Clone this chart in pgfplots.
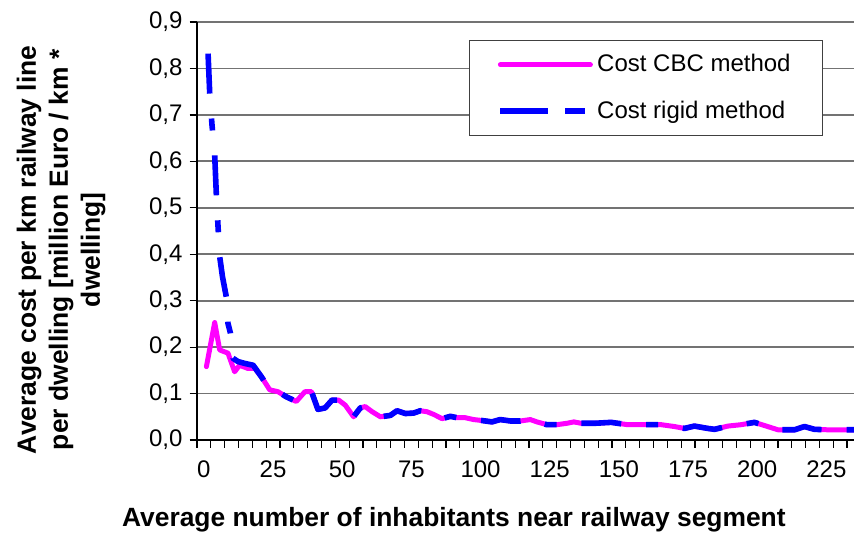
\documentclass[border=0pt]{standalone}
\usepackage{fontspec}
\setmainfont{Liberation Sans}
\usepackage{pgfplots}
\pgfplotsset{compat=1.18}
\definecolor{cbcpink}{HTML}{FF00FF}
\definecolor{rigidblue}{HTML}{0000FF}

\begin{document}
\begin{tikzpicture}
\begin{axis}[
  scale only axis, width=328.5pt, height=209pt,
  xmin=-2.5, xmax=235, ymin=0, ymax=0.9,
  axis x line=bottom, axis y line=left,
  axis line style={black, line width=0.8pt, -},
  tick align=outside, major tick length=3.75pt,
  tick style={black, line width=0.6pt},
  xtick={-2.5,2.5,...,232.5},
  xticklabels={0,,,,,25,,,,,50,,,,,75,,,,,100,,,,,125,,,,,150,,,,,175,,,,,200,,,,,225,,},
  xticklabel style={xshift=3.46pt, yshift=-3pt},
  ytick={0,0.1,0.2,0.3,0.4,0.5,0.6,0.7,0.8,0.9},
  yticklabel style={/pgf/number format/.cd, fixed, fixed zerofill, precision=1, use comma},
  /pgf/number format/assume math mode=true,
  ticklabel style={font=\fontsize{12}{14}\selectfont},
  ymajorgrids, grid style={black!55, line width=0.9pt},
  legend style={at={(rel axis cs:0.414,0.957)}, anchor=north west, draw=black!75,
    line width=0.6pt, fill=white, font=\fontsize{12}{14}\selectfont,
    inner xsep=14pt, inner ysep=5pt, row sep=9pt, cells={anchor=west}},
  legend image code/.code={\path (0pt,0pt) -- (45pt,0pt); \draw[#1] (4pt,0pt) -- (44pt,0pt);},
]
\addplot[cbcpink, line width=2.5pt, line join=round, line cap=round] coordinates {
(0.9,0.158) (3.9,0.253) (5.7,0.194) (8.7,0.187) (11.1,0.147) (12.9,0.161) (15.9,0.154)
(18.4,0.154) (20.8,0.136) (23.8,0.108) (26.8,0.104) (29.8,0.093) (33.4,0.083) (36.5,0.104)
(38.9,0.104) (41.2,0.066) (43.8,0.069) (46.3,0.086) (48.7,0.086) (51.1,0.075) (54.1,0.050)
(56.5,0.069) (58.3,0.072) (60.8,0.061) (63.8,0.050) (67.4,0.053) (69.8,0.063) (72.8,0.057)
(75.8,0.058) (78.2,0.063) (80.6,0.061) (83.1,0.055) (86.1,0.046) (89.1,0.051) (91.5,0.048)
(94.5,0.048) (97.5,0.044) (100.5,0.042) (104.1,0.039) (107.1,0.044) (110.8,0.041) (114.4,0.041)
(118.0,0.044) (120.4,0.039) (124.0,0.033) (127.6,0.033) (131.2,0.036) (133.7,0.039) (136.4,0.036)
(141.2,0.036) (147.2,0.038) (153.2,0.033) (158.0,0.033) (165.3,0.033) (170.1,0.029) (173.7,0.025)
(177.3,0.030) (182.1,0.025) (184.6,0.023) (189.4,0.030) (194.2,0.033) (199.0,0.038) (203.8,0.029)
(207.5,0.022) (213.5,0.022) (217.1,0.029) (220.7,0.023) (225.5,0.022) (230.3,0.022) (235.2,0.022)
};
\addlegendentry{Cost CBC method}
\addplot[rigidblue, line width=2.8pt, line join=round, line cap=butt,
  dash pattern=on 20pt off 12.5pt on 6pt off 12.5pt] coordinates {
(1.5,0.832) (2.1,0.746) (2.9,0.68) (3.9,0.613) (4.5,0.527) (5.1,0.46) (5.7,0.395) (6.7,0.352)
(8.1,0.308) (8.7,0.251) (9.6,0.23) (10.5,0.176) (12.3,0.169) (14.7,0.165) (17.8,0.161)
(20.8,0.136) (23.8,0.108) (26.8,0.104) (29.8,0.093) (33.4,0.083) (36.5,0.104)
(38.9,0.104) (41.2,0.066) (43.8,0.069) (46.3,0.086) (48.7,0.086) (51.1,0.075) (54.1,0.050)
(56.5,0.069) (58.3,0.072) (60.8,0.061) (63.8,0.050) (67.4,0.053) (69.8,0.063) (72.8,0.057)
(75.8,0.058) (78.2,0.063) (80.6,0.061) (83.1,0.055) (86.1,0.046) (89.1,0.051) (91.5,0.048)
(94.5,0.048) (97.5,0.044) (100.5,0.042) (104.1,0.039) (107.1,0.044) (110.8,0.041) (114.4,0.041)
(118.0,0.044) (120.4,0.039) (124.0,0.033) (127.6,0.033) (131.2,0.036) (133.7,0.039) (136.4,0.036)
(141.2,0.036) (147.2,0.038) (153.2,0.033) (158.0,0.033) (165.3,0.033) (170.1,0.029) (173.7,0.025)
(177.3,0.030) (182.1,0.025) (184.6,0.023) (189.4,0.030) (194.2,0.033) (199.0,0.038) (203.8,0.029)
(207.5,0.022) (213.5,0.022) (217.1,0.029) (220.7,0.023) (225.5,0.022) (230.3,0.022) (235.2,0.022)
};
\addlegendentry{Cost rigid method}
\coordinate (o) at (rel axis cs:0,0);
\coordinate (yl) at (rel axis cs:0,0.455);
\coordinate (xl) at (rel axis cs:0.391,0);
\end{axis}
\node[rotate=90, align=center, font=\bfseries\fontsize{13.2}{16}\selectfont]
  at ([xshift=-68pt]yl)
  {Average cost per km railway line\\per dwelling [million Euro / km *\\dwelling]};
\node[font=\bfseries\fontsize{13.2}{15}\selectfont]
  at ([yshift=-40pt]xl)
  {Average number of inhabitants near railway segment};
\pgfresetboundingbox
\path (o) ++(-98.5pt,-46pt) rectangle ++(427pt,266pt);
\end{tikzpicture}
\end{document}
